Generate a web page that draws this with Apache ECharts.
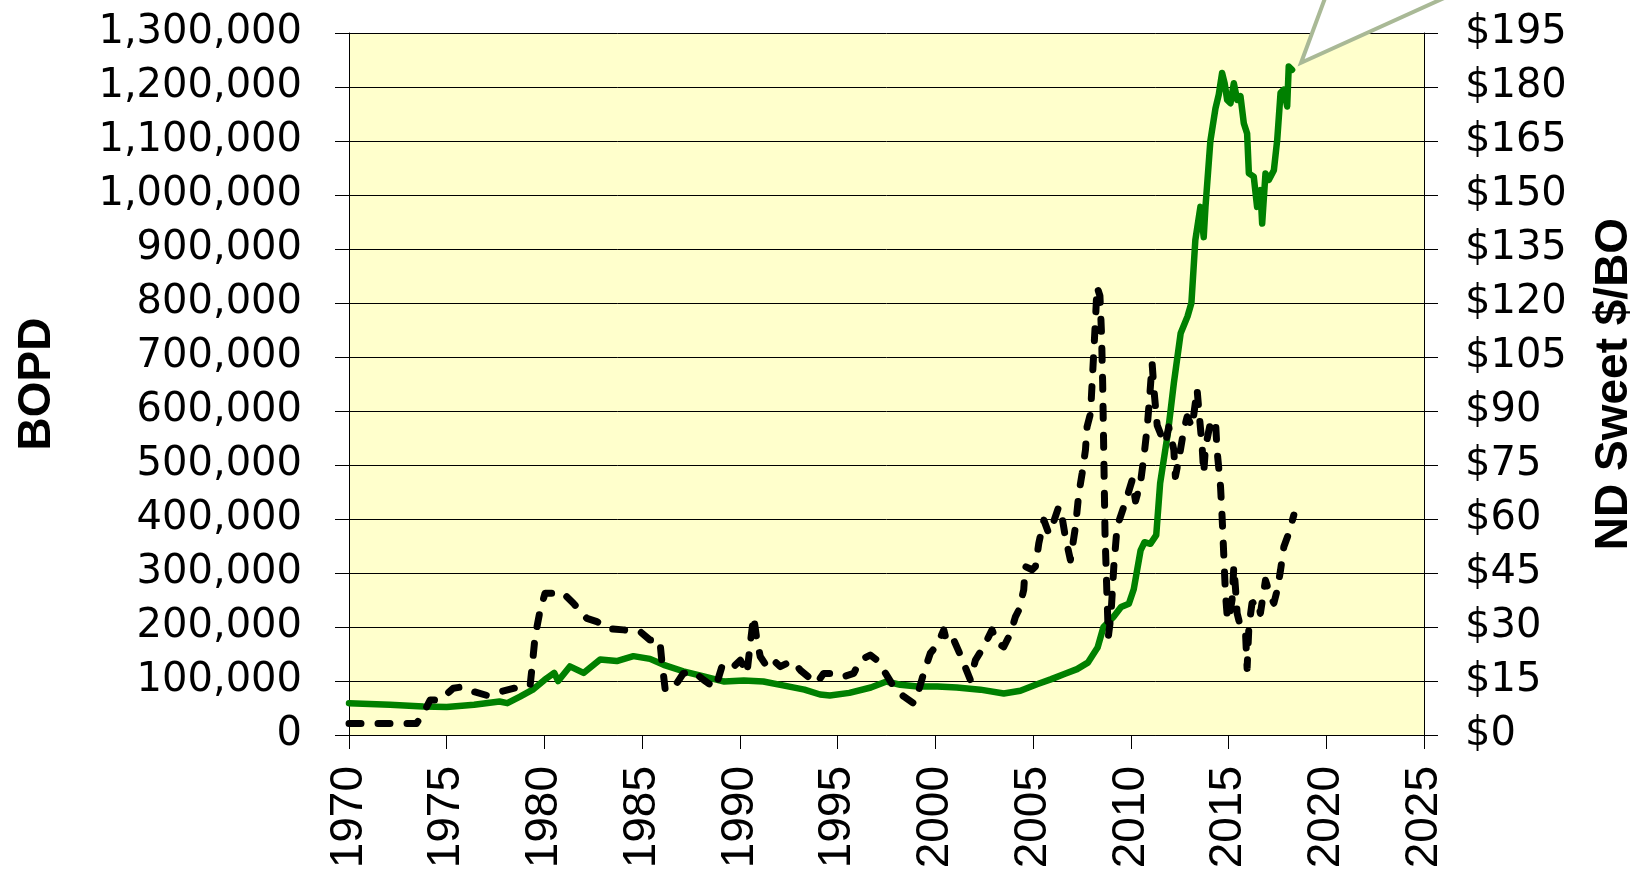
<!DOCTYPE html>
<html>
<head>
<meta charset="utf-8">
<script src="https://cdn.jsdelivr.net/npm/echarts@6/dist/echarts.min.js"></script>
<style>
  html, body { margin: 0; padding: 0; background: #fff; }
  #chart { width: 1634px; height: 871px; }
</style>
</head>
<body>
<div id="chart"></div>
<script>
// production, barrels of oil per day (left axis)
const prodYears = [
  1970.0, 1972.1, 1973.8, 1975.0, 1976.4, 1977.7, 1978.1, 1978.75, 1979.4, 1980.0,
  1980.5, 1980.7, 1981.3, 1982.0, 1982.85, 1983.7, 1984.55, 1985.4, 1986.1, 1987.1,
  1988.1, 1989.2, 1990.2, 1991.2, 1992.2, 1993.3, 1994.1, 1994.6, 1995.6, 1996.7,
  1997.5, 1998.2, 1999.1, 2000.1, 2001.1, 2002.3, 2003.5, 2004.35, 2005.2, 2005.9,
  2006.6, 2007.25, 2007.8, 2008.3, 2008.6, 2009.1, 2009.5, 2009.9, 2010.15, 2010.5,
  2010.7, 2011.0, 2011.3, 2011.5, 2011.9, 2012.2, 2012.55, 2012.9, 2013.1, 2013.3,
  2013.56, 2013.73, 2013.82, 2014.07, 2014.33, 2014.5, 2014.67, 2014.8, 2014.93, 2015.1,
  2015.27, 2015.44, 2015.61, 2015.78, 2015.95, 2016.04, 2016.29, 2016.46, 2016.63, 2016.72,
  2016.89, 2017.06, 2017.32, 2017.49, 2017.66, 2017.83, 2018.0, 2018.08, 2018.25
]
const prodBopd = [
  59000, 56000, 53000, 52000, 56000, 62000, 59000, 71000, 84000, 102000,
  115000, 100000, 127000, 115000, 140000, 137000, 146000, 141000, 130000, 118000,
  109000, 99000, 101000, 99000, 92000, 84000, 75000, 73000, 78000, 88000,
  99000, 93000, 90000, 90000, 88000, 84000, 77000, 82000, 94000, 103000,
  113000, 122000, 134000, 162000, 200000, 218000, 237000, 243000, 270000, 342000,
  357000, 354000, 370000, 466000, 560000, 651000, 744000, 775000, 800000, 916000,
  978000, 922000, 978000, 1100000, 1160000, 1186000, 1226000, 1207000, 1176000, 1170000,
  1207000, 1176000, 1183000, 1133000, 1114000, 1040000, 1034000, 978000, 1009000, 947000,
  1040000, 1028000, 1046000, 1102000, 1189000, 1195000, 1164000, 1238000, 1232000
]

// ND Sweet price, $ per barrel (right axis)
const priceYears = [
  1970.0, 1973.45, 1973.8, 1974.15, 1974.66, 1975.34, 1975.85, 1976.4, 1977.05, 1977.73,
  1978.75, 1979.27, 1979.35, 1979.52, 1979.78, 1980.03, 1980.46, 1980.8, 1981.14, 1981.48,
  1982.17, 1982.68, 1983.19, 1984.04, 1984.9, 1985.4, 1985.9, 1986.0, 1986.18, 1986.43,
  1986.77, 1987.1, 1987.63, 1988.14, 1988.74, 1989.08, 1989.5, 1990.02, 1990.36, 1990.53,
  1990.7, 1990.87, 1991.04, 1991.38, 1991.72, 1992.06, 1992.4, 1992.75, 1993.09, 1993.6,
  1993.94, 1994.28, 1994.8, 1995.3, 1995.82, 1996.16, 1996.67, 1997.01, 1997.35, 1997.87,
  1998.38, 1998.89, 1999.06, 1999.4, 1999.74, 2000.09, 2000.43, 2000.6, 2000.94, 2001.28,
  2001.79, 2002.05, 2002.47, 2002.9, 2003.16, 2003.5, 2003.84, 2004.1, 2004.27, 2004.52,
  2004.6, 2004.95, 2005.12, 2005.29, 2005.55, 2005.8, 2005.97, 2006.31, 2006.48, 2006.65,
  2006.91, 2007.17, 2007.34, 2007.51, 2007.68, 2007.76, 2007.94, 2008.02, 2008.11, 2008.2,
  2008.27, 2008.42, 2008.5, 2008.56, 2008.6, 2008.64, 2008.68, 2008.76, 2008.85, 2008.98,
  2009.13, 2009.3, 2009.64, 2009.81, 2010.07, 2010.24, 2010.49, 2010.67, 2010.84, 2010.95,
  2011.09, 2011.2, 2011.35, 2011.51, 2011.77, 2011.94, 2012.2, 2012.28, 2012.45, 2012.71,
  2012.88, 2013.14, 2013.39, 2013.48, 2013.65, 2013.73, 2013.82, 2014.07, 2014.33, 2014.41,
  2014.59, 2014.67, 2014.76, 2014.84, 2014.92, 2015.01, 2015.18, 2015.27, 2015.35, 2015.44,
  2015.61, 2015.87, 2015.95, 2016.04, 2016.2, 2016.46, 2016.63, 2016.89, 2017.15, 2017.32,
  2017.49, 2017.66, 2017.83, 2018.08, 2018.34
]
const priceUsd = [
  3.2, 3.2, 6.0, 9.7, 9.7, 13.0, 13.4, 12.0, 11.0, 12.0,
  13.4, 13.9, 18.0, 27.3, 34.7, 39.4, 39.4, 38.0, 38.4, 36.6,
  32.4, 31.5, 29.6, 29.2, 28.7, 26.4, 26.4, 20.8, 12.5, 12.5,
  14.4, 17.1, 17.6, 15.3, 13.0, 19.0, 18.0, 20.8, 17.1, 25.4,
  32.9, 26.4, 21.8, 19.0, 20.8, 19.0, 19.9, 20.4, 18.0, 15.7,
  14.4, 17.1, 17.1, 16.2, 17.1, 20.8, 22.2, 20.8, 18.0, 13.4,
  10.7, 8.8, 10.7, 17.1, 22.7, 25.0, 29.2, 25.5, 26.4, 22.2,
  15.3, 20.8, 24.5, 29.2, 25.5, 24.5, 28.2, 32.9, 34.7, 40.3,
  46.8, 45.9, 46.8, 53.2, 59.7, 56.0, 57.9, 63.4, 60.6, 55.0,
  48.6, 57.9, 67.1, 72.7, 79.2, 85.6, 89.4, 97.7, 106.9, 116.2,
  124.5, 122.0, 111.6, 97.7, 83.8, 70.0, 56.0, 42.1, 27.3, 33.0,
  46.8, 57.9, 63.4, 66.2, 70.8, 65.0, 69.9, 77.3, 85.6, 93.0,
  103.2, 94.9, 86.0, 83.8, 81.0, 85.6, 79.2, 71.8, 76.4, 84.7,
  88.4, 85.6, 96.0, 90.3, 80.0, 72.7, 80.0, 86.6, 87.5, 79.2,
  69.0, 60.6, 49.5, 39.4, 33.8, 31.9, 37.5, 46.8, 41.2, 33.8,
  30.1, 28.2, 18.5, 30.0, 36.6, 37.5, 33.8, 43.0, 38.4, 36.6,
  40.3, 45.8, 52.3, 56.0, 61.1
]

const chart = echarts.init(document.getElementById('chart'))

const nameStyle = {
  fontFamily: 'Liberation Sans',
  fontWeight: 'bold',
  fontSize: 46,
  color: '#000',
}
const tickStyle = { show: true, length: 14, lineStyle: { color: '#000' } }

const option = {
  backgroundColor: '#fff',
  animation: false,
  grid: {
    left: 349,
    right: 210,
    top: 33,
    bottom: 136,
    show: true,
    backgroundColor: '#FFFFCC',
    borderWidth: 0,
    containLabel: false,
    outerBoundsMode: 'none',
  },
  xAxis: {
    type: 'value',
    min: 1970,
    max: 2025,
    interval: 5,
    axisLine: { lineStyle: { color: '#000', width: 1 } },
    axisTick: tickStyle,
    splitLine: { show: false },
    axisLabel: {
      rotate: 90,
      margin: 31,
      fontFamily: 'Liberation Sans',
      fontSize: 46,
      color: '#000',
      formatter: (v) => String(v),
    },
  },
  yAxis: [
    {
      type: 'value',
      min: 0,
      max: 1300000,
      interval: 100000,
      position: 'left',
      name: 'BOPD',
      nameLocation: 'middle',
      nameRotate: 90,
      nameGap: 289,
      nameTextStyle: nameStyle,
      axisLine: { show: true, lineStyle: { color: '#000', width: 1 } },
      axisTick: tickStyle,
      splitLine: { show: true, lineStyle: { color: '#000', width: 1 } },
      axisLabel: {
        margin: 47,
        fontFamily: 'DejaVu Sans',
        fontSize: 40,
        color: '#000',
        formatter: (v) => v.toLocaleString('en-US'),
      },
    },
    {
      type: 'value',
      min: 0,
      max: 195,
      interval: 15,
      position: 'right',
      name: 'ND Sweet $/BO',
      nameLocation: 'middle',
      nameRotate: 90,
      nameGap: 167,
      nameTextStyle: nameStyle,
      axisLine: { show: true, lineStyle: { color: '#000', width: 1 } },
      axisTick: tickStyle,
      splitLine: { show: false },
      axisLabel: {
        margin: 41,
        fontFamily: 'DejaVu Sans',
        fontSize: 40,
        color: '#000',
        formatter: (v) => '$' + v,
      },
    },
  ],
  series: [
    {
      name: 'BOPD',
      type: 'line',
      yAxisIndex: 0,
      data: prodYears.map((y, i) => [y, prodBopd[i]]),
      showSymbol: false,
      lineStyle: { color: '#008000', width: 6.5, join: 'round', cap: 'round' },
    },
    {
      name: 'ND Sweet $/BO',
      type: 'line',
      yAxisIndex: 1,
      data: priceYears.map((y, i) => [y, priceUsd[i]]),
      showSymbol: false,
      lineStyle: { color: '#000', width: 7, type: [12, 17], cap: 'round', join: 'round' },
    },
  ],
}

chart.setOption(option)

// callout pointer aimed just past the last production point
const last = prodYears.length - 1
const tip = chart.convertToPixel({ xAxisIndex: 0, yAxisIndex: 0 }, [prodYears[last], prodBopd[last]])
const tx = tip[0] + 9
const ty = tip[1] - 7
chart.setOption({
  graphic: [
    {
      type: 'polygon',
      z: 100,
      shape: {
        points: [
          [tx, ty],
          [tx + 23 * (ty + 10) / 62, -10],
          [tx + 137 * (ty + 10) / 62, -10],
        ],
      },
      style: { fill: '#fff', stroke: '#A9B996', lineWidth: 4 },
    },
  ],
})
</script>
</body>
</html>
